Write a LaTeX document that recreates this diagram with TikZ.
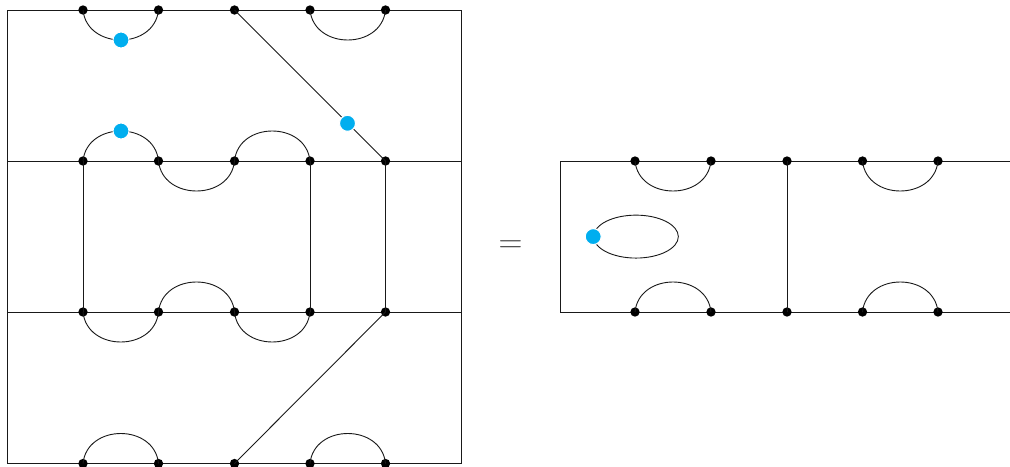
\documentclass[tikz,border=0pt]{standalone}
\usetikzlibrary{shapes.geometric}
\definecolor{cyanblue}{RGB}{0,174,239}
\tikzset{
  blackdot/.style={circle,fill=black,inner sep=0pt,minimum size=7pt,draw=none},
  bluedot/.style={circle,fill=cyanblue,draw=white,line width=0.8pt,inner sep=0pt,minimum size=12pt},
  frameline/.style={line width=0.72pt,black!90},
  thinline/.style={line width=0.68pt,black!90},
}
\newcommand{\humpD}[2]{\draw[thinline] (#1.center) .. controls +(4,40) and +(-4,40) .. (#2.center);}
\newcommand{\humpU}[2]{\draw[thinline] (#1.center) .. controls +(4,-40) and +(-4,-40) .. (#2.center);}
\begin{document}
\begin{tikzpicture}[x=0.75pt,y=-0.75pt]
\useasboundingbox (0,0) rectangle (1010,467);
% frame corners and free ends
\coordinate (tl) at (7.5,10);
\coordinate (tr) at (461,10);
\coordinate (ml) at (7.5,161);
\coordinate (mr) at (461,161);
\coordinate (nl) at (7.5,312);
\coordinate (nr) at (461,312);
\coordinate (bl) at (7.5,463.5);
\coordinate (br) at (461,463.5);
\coordinate (Rtl) at (560,161);
\coordinate (Rbl) at (560,312);
\coordinate (Rtr) at (1010,161);
\coordinate (Rbr) at (1010,312);
% lines first, dots on top
\draw[frameline] (tl) -- (tr) -- (br) -- (bl) -- cycle;
\draw[frameline] (ml) -- (mr);
\draw[frameline] (nl) -- (nr);
\draw[frameline] (Rtr) -- (Rtl) -- (Rbl) -- (Rbr);
% black dots, left diagram
\foreach \n/\x in {1/83,2/158.5,3/234.5,4/310,5/385.5}{
  \node[blackdot] (a\n) at (\x,10) {};
  \node[blackdot] (b\n) at (\x,161) {};
  \node[blackdot] (c\n) at (\x,312) {};
  \node[blackdot] (d\n) at (\x,463.5) {};
}
% black dots, right diagram
\foreach \n/\x in {1/635,2/711,3/787,4/862.5,5/938}{
  \node[blackdot] (p\n) at (\x,161) {};
  \node[blackdot] (q\n) at (\x,312) {};
}
% humps
\humpD{a1}{a2}\humpD{a4}{a5}
\humpU{b1}{b2}\humpD{b2}{b3}\humpU{b3}{b4}
\humpD{c1}{c2}\humpU{c2}{c3}\humpD{c3}{c4}
\humpU{d1}{d2}\humpU{d4}{d5}
\humpD{p1}{p2}\humpD{p4}{p5}
\humpU{q1}{q2}\humpU{q4}{q5}
% straight connectors
\draw[thinline] (a3.center) -- (b5.center);
\draw[thinline] (c5.center) -- (d3.center);
\draw[thinline] (b1.center) -- (c1.center);
\draw[thinline] (b4.center) -- (c4.center);
\draw[thinline] (b5.center) -- (c5.center);
\draw[thinline] (p3.center) -- (q3.center);
% loop
\node[ellipse,draw,thinline,inner sep=0pt,minimum width=63.5pt,minimum height=32.2pt] (loop) at (636,236.6) {};
% blue dots
\node[bluedot] (u1) at (121,40) {};
\node[bluedot] (u2) at (121,131) {};
\node[bluedot] (u3) at (347.5,123.3) {};
\node[bluedot] (u4) at (loop.west) {};
% equals
\node[inner sep=0pt,font=\fontsize{24}{24}\selectfont,text=black!75] (eq) at (510.5,246.5) {$=$};
\end{tikzpicture}
\end{document}
